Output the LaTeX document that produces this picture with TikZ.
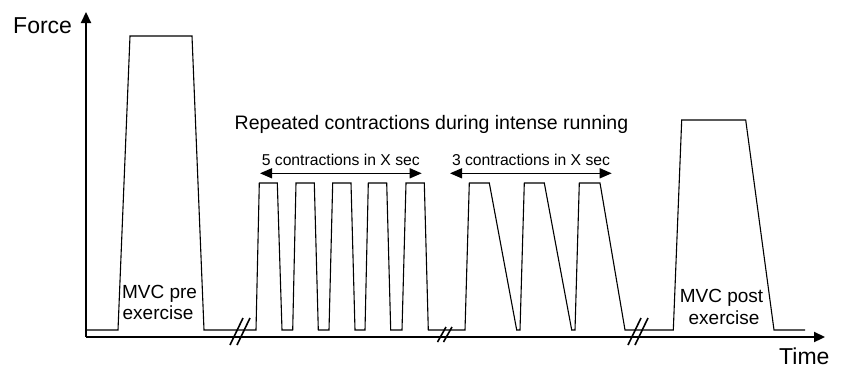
\documentclass[tikz,border=0pt]{standalone}
\usepackage{fontspec}
\setmainfont{Liberation Sans}
\usetikzlibrary{arrows.meta}
\begin{document}
\begin{tikzpicture}[x=1pt,y=-1pt,
  axis/.style={line width=2.2pt,-{Triangle[length=11pt,width=10pt]}},
  signal/.style={line width=1.1pt,line join=miter},
  breakmark/.style={line width=1.6pt},
  span/.style={line width=1.4pt,{Triangle[length=12pt,width=10pt]}-{Triangle[length=12pt,width=10pt]}},
  lbl/.style={inner sep=0pt,anchor=base,font=\fontsize{19}{22}\selectfont},
  small/.style={inner sep=0pt,anchor=base,font=\fontsize{15.7}{18}\selectfont},
  axlbl/.style={inner sep=0pt,text depth=0pt,font=\fontsize{23}{26}\selectfont}]
\useasboundingbox (0,0) rectangle (845,370);

% axes
\coordinate (O) at (86,337);
\coordinate (ytop) at (86,12);
\coordinate (xend) at (825,337);
\draw[axis] (O) -- (ytop);
\draw[axis] (O) -- (xend);
\node[axlbl,anchor=base west] (force) at (13,33) {Force};
\node[axlbl,anchor=base west] (time) at (779,364.5) {Time};

% force trace: MVC before, repeated contractions, MVC after
\draw[signal] (86,330) -- (118,330) -- (130,36) -- (192,36) -- (204,330) -- (256,330)
  % five short contractions
  -- (259.3,183) -- (277.3,183) -- (282,330) -- (292.7,330)
  -- (296,183) -- (314.3,183) -- (318.3,330) -- (329,330)
  -- (332.7,183) -- (351,183) -- (355,330) -- (365,330)
  -- (368.3,183) -- (386.7,183) -- (390.7,330) -- (402,330)
  -- (406,183) -- (424.3,183) -- (428.3,330) -- (465,330)
  % three slowly relaxing contractions
  -- (469.3,183) -- (489.3,183) -- (516.7,330) -- (520,330)
  -- (524.3,183) -- (544.3,183) -- (571.7,330) -- (575,330)
  -- (579.3,183) -- (600,183) -- (625,330) -- (673.3,330)
  % MVC after exercise
  -- (681.7,120) -- (745.7,120) -- (774,330) -- (805,330);

% time-axis breaks
\draw[breakmark] (230,345) -- (243,318) (237,345) -- (250,318);
\draw[breakmark] (437.5,342) -- (446,327) (443.5,342) -- (452,327);
\draw[breakmark] (628,345) -- (641,318) (635,345) -- (648,318);

% labels
\node[lbl] (pre1) at (159.5,298) {MVC pre};
\node[lbl] (pre2) at (158,319.5) {exercise};
\node[lbl] (post1) at (721.5,302) {MVC post};
\node[lbl] (post2) at (724,324) {exercise};
\node[lbl,font=\fontsize{19.5}{22}\selectfont] (title) at (431.5,129) {Repeated contractions during intense running};

\coordinate (a1) at (260,173.3);
\coordinate (b1) at (421.7,173.3);
\coordinate (a2) at (450,173.3);
\coordinate (b2) at (611.7,173.3);
\draw[span] (a1) -- (b1);
\draw[span] (a2) -- (b2);
\node[small] (five) at (340.8,165.5) {5 contractions in X sec};
\node[small] (three) at (531,165.5) {3 contractions in X sec};
\end{tikzpicture}
\end{document}
